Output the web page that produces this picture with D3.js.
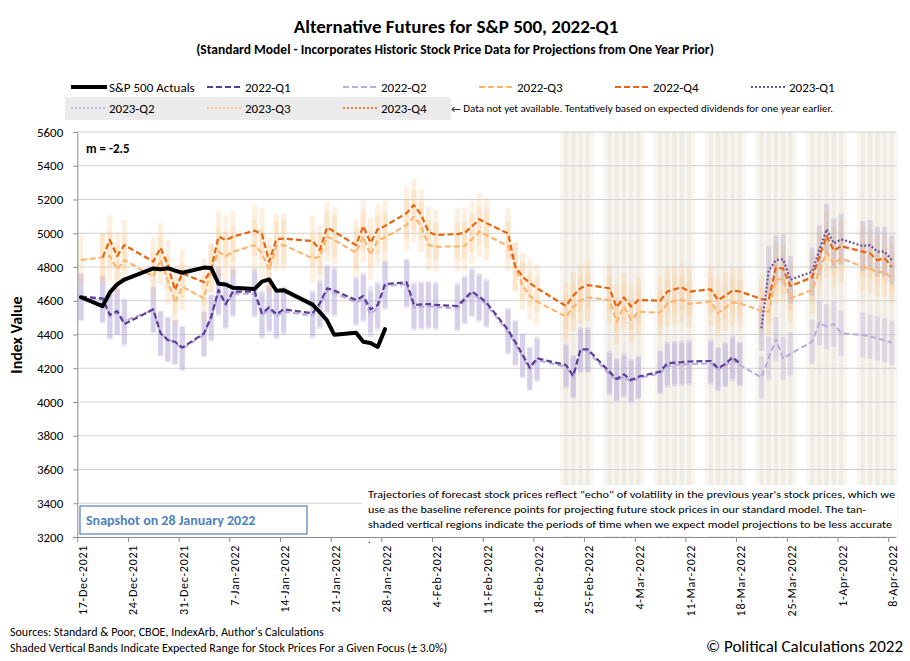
<!DOCTYPE html>
<html lang="en">
<head>
<meta charset="UTF-8">
<title>Alternative Futures for S&amp;P 500, 2022-Q1</title>
<script src="https://cdn.jsdelivr.net/npm/d3@7"></script>
<style>
    body { margin: 0; background: #fff; }
    svg { font-family: Carlito, Calibri, Lato, "Open Sans", sans-serif; }
</style>
</head>
<body>
<svg id="chart" width="910" height="661"></svg>
<script>
// trading days shown on the chart
var tradingDates = [
    "2021-12-17", "2021-12-20", "2021-12-21", "2021-12-22", "2021-12-23", "2021-12-27", "2021-12-28", "2021-12-29", "2021-12-30", "2021-12-31",
    "2022-01-03", "2022-01-04", "2022-01-05", "2022-01-06", "2022-01-07", "2022-01-10", "2022-01-11", "2022-01-12", "2022-01-13", "2022-01-14",
    "2022-01-18", "2022-01-19", "2022-01-20", "2022-01-21", "2022-01-24", "2022-01-25", "2022-01-26", "2022-01-27", "2022-01-28", "2022-01-31",
    "2022-02-01", "2022-02-02", "2022-02-03", "2022-02-04", "2022-02-07", "2022-02-08", "2022-02-09", "2022-02-10", "2022-02-11", "2022-02-14",
    "2022-02-15", "2022-02-16", "2022-02-17", "2022-02-18", "2022-02-22", "2022-02-23", "2022-02-24", "2022-02-25", "2022-02-28", "2022-03-01",
    "2022-03-02", "2022-03-03", "2022-03-04", "2022-03-07", "2022-03-08", "2022-03-09", "2022-03-10", "2022-03-11", "2022-03-14", "2022-03-15",
    "2022-03-16", "2022-03-17", "2022-03-18", "2022-03-21", "2022-03-22", "2022-03-23", "2022-03-24", "2022-03-25", "2022-03-28", "2022-03-29",
    "2022-03-30", "2022-03-31", "2022-04-01", "2022-04-04", "2022-04-05", "2022-04-06", "2022-04-07", "2022-04-08"
];

// S&P 500 closes, from 17-Dec-2021
var actuals = [4620.64, 4568.02, 4649.23, 4696.56, 4725.79, 4791.19, 4786.35, 4793.06, 4778.73, 4766.18,
    4796.56, 4793.54, 4700.58, 4696.05, 4677.03, 4670.29, 4713.07, 4726.35, 4659.03, 4662.85,
    4577.11, 4532.76, 4482.73, 4397.94, 4410.13, 4356.45, 4349.93, 4326.51, 4431.85];

// 2022-Q1 focus, from 17-Dec-2021 to 18-Mar-2022
var q1_2022 = [4624, 4614, 4516, 4539, 4462, 4549, 4407, 4367, 4357, 4322,
    4407, 4505, 4664, 4581, 4654, 4654, 4526, 4561, 4520, 4549,
    4526, 4585, 4674, 4660, 4604, 4628, 4549, 4575, 4699, 4709,
    4575, 4578, 4580, 4575, 4569, 4610, 4655, 4625, 4590, 4427,
    4355, 4280, 4203, 4259, 4219, 4154, 4312, 4312, 4180, 4136,
    4164, 4130, 4150, 4180, 4229, 4233, 4236, 4240, 4243, 4200,
    4225, 4265, 4229];

// 2022-Q2 focus, from 17-Dec-2021
var q2_2022 = [4620, 4605, 4505, 4530, 4480, 4545, 4405, 4372, 4352, 4315,
    4400, 4495, 4650, 4570, 4642, 4640, 4512, 4548, 4508, 4535,
    4512, 4570, 4660, 4645, 4590, 4612, 4520, 4560, 4688, 4698,
    4560, 4565, 4568, 4562, 4555, 4598, 4642, 4612, 4578, 4415,
    4345, 4270, 4192, 4248, 4208, 4145, 4300, 4300, 4165, 4126,
    4150, 4120, 4140, 4170, 4213, 4220, 4222, 4225, 4229, 4190,
    4215, 4249, 4219, 4146, 4260, 4372, 4259, 4285, 4357, 4470,
    4446, 4462, 4407, 4397, 4388, 4378, 4365, 4351];

// 2022-Q3 focus, from 17-Dec-2021
var q3_2022 = [4841, 4857, 4865, 4786, 4841, 4743, 4841, 4720, 4589, 4683,
    4614, 4794, 4891, 4865, 4890, 4930, 4880, 4782, 4924, 4930,
    4852, 4860, 4980, 4960, 4885, 4980, 4871, 4960, 4975, 5049,
    5098, 5040, 4930, 4920, 4922, 4924, 4965, 5010, 4990, 4924,
    4800, 4690, 4630, 4595, 4505, 4560, 4604, 4620, 4604, 4476,
    4565, 4486, 4535, 4529, 4585, 4600, 4608, 4581, 4595, 4526,
    4560, 4589, 4585, 4540, 4535, 4723, 4730, 4614, 4664, 4780,
    4885, 4818, 4851, 4802, 4790, 4767, 4772, 4733];

// 2022-Q4 focus, from 20-Dec-2021
var q4_2022 = [4857, 4960, 4865, 4930, 4832, 4914, 4812, 4664, 4763,
    4710, 4790, 4980, 4960, 4980, 5015, 4995, 4832, 4964, 4968,
    4954, 4901, 5035, 5009, 4930, 5043, 4944, 5023, 5043, 5120,
    5167, 5110, 5009, 4990, 4995, 5003, 5040, 5083, 5060, 4999,
    4802, 4743, 4705, 4674, 4569, 4630, 4674, 4693, 4674, 4561,
    4620, 4565, 4604, 4600, 4654, 4668, 4680, 4654, 4668, 4604,
    4630, 4660, 4655, 4610, 4604, 4798, 4790, 4687, 4739, 4860,
    4984, 4897, 4924, 4891, 4880, 4841, 4851, 4802];

// 2023-Q1 focus, from 21-Mar-2022
var q1_2023 = [4437, 4780, 4841, 4846, 4725, 4772, 4900, 5023, 4940, 4964, 4924, 4930, 4891, 4891, 4841];

// not yet available
var q2_2023 = [];
var q3_2023 = [];
var q4_2023 = [];

var bandPct = 0.03;
var tanStart = "2022-02-22";

var yTicks = [3200, 3400, 3600, 3800, 4000, 4200, 4400, 4600, 4800, 5000, 5200, 5400, 5600];
var xTicks = ["2021-12-17", "2021-12-24", "2021-12-31", "2022-01-07", "2022-01-14", "2022-01-21", "2022-01-28",
    "2022-02-04", "2022-02-11", "2022-02-18", "2022-02-25", "2022-03-04", "2022-03-11", "2022-03-18",
    "2022-03-25", "2022-04-01", "2022-04-08"];

var legendRow1 = ["S&P 500 Actuals", "2022-Q1", "2022-Q2", "2022-Q3", "2022-Q4", "2023-Q1"];
var legendRow2 = ["2023-Q2", "2023-Q3", "2023-Q4"];

var parseDate = d3.timeParse("%Y-%m-%d");
var fmtTick = d3.timeFormat("%-d-%b-%Y");

function buildSeries(startDate, values) {
    var start = tradingDates.indexOf(startDate);
    return values.map(function (v, i) {
        return {date: parseDate(tradingDates[start + i]), value: v};
    });
}

var styles = {
    "S&P 500 Actuals": {color: "#000000", dash: null, width: 4},
    "2022-Q1": {color: "#5b3d99", dash: "6,3", width: 2.2, band: "#b9acdb", bandOp: 0.34},
    "2022-Q2": {color: "#b9addb", dash: "6,3", width: 2, band: "#b9acdb", bandOp: 0.34},
    "2022-Q3": {color: "#ffb166", dash: "6,3", width: 2, band: "#fbc48c", bandOp: 0.26},
    "2022-Q4": {color: "#e8650f", dash: "6,3", width: 2.2, band: "#fbc48c", bandOp: 0.26},
    "2023-Q1": {color: "#6a51a6", dash: "2,2", width: 2.2, band: "#b0a6c8", bandOp: 0.36},
    "2023-Q2": {color: "#c4badf", dash: "2,2", width: 2},
    "2023-Q3": {color: "#ffc48c", dash: "2,2", width: 2},
    "2023-Q4": {color: "#ef7f2a", dash: "2,2", width: 2}
};

var series = [
    {name: "2022-Q2", data: buildSeries("2021-12-17", q2_2022)},
    {name: "2022-Q1", data: buildSeries("2021-12-17", q1_2022)},
    {name: "2022-Q3", data: buildSeries("2021-12-17", q3_2022)},
    {name: "2022-Q4", data: buildSeries("2021-12-20", q4_2022)},
    {name: "2023-Q1", data: buildSeries("2022-03-21", q1_2023)},
    {name: "2023-Q2", data: buildSeries("2022-03-21", q2_2023)},
    {name: "2023-Q3", data: buildSeries("2022-03-21", q3_2023)},
    {name: "2023-Q4", data: buildSeries("2022-03-21", q4_2023)},
    {name: "S&P 500 Actuals", data: buildSeries("2021-12-17", actuals)}
];

var svg = d3.select("#chart");
svg.append("rect").attr("width", 910).attr("height", 661).attr("fill", "#fff");

var plotLeft = 77.3, plotRight = 895.4, plotTop = 132, plotBottom = 537;
var x = d3.scaleTime()
    .domain([parseDate("2021-12-17"), parseDate("2022-04-09")])
    .range([plotLeft, plotRight]);
var y = d3.scaleLinear().domain([3200, 5600]).range([plotBottom, plotTop]);
var dayW = x(parseDate("2021-12-18")) - x(parseDate("2021-12-17"));

// points sit in the middle of their day
function px(d) {
    return x(d3.timeHour.offset(d, 12));
}

// tan shaded periods of lower accuracy
var tanDates = tradingDates.filter(function (d) { return d >= tanStart; }).map(parseDate);
var tanG = svg.append("g");
tanG.selectAll("rect.base").data(tanDates).enter().append("rect")
    .attr("class", "base")
    .attr("x", function (d) { return px(d) - dayW * 0.85; })
    .attr("width", dayW * 1.7)
    .attr("y", plotTop)
    .attr("height", plotBottom - plotTop)
    .attr("fill", "#f8f6f1");
tanG.selectAll("rect.core").data(tanDates).enter().append("rect")
    .attr("class", "core")
    .attr("x", function (d) { return px(d) - dayW * 0.3; })
    .attr("width", dayW * 0.6)
    .attr("y", plotTop)
    .attr("height", plotBottom - plotTop)
    .attr("fill", "#f1ece3");

// gridlines
svg.append("g").selectAll("line").data(yTicks.slice(1)).enter().append("line")
    .attr("x1", plotLeft).attr("x2", plotRight + 1)
    .attr("y1", function (d) { return y(d); })
    .attr("y2", function (d) { return y(d); })
    .attr("stroke", "#d0d0d0")
    .attr("stroke-width", 1);

// expected range bands
var bandG = svg.append("g");
series.forEach(function (s) {
    var st = styles[s.name];
    if (!st.band) return;
    bandG.append("g").selectAll("rect")
        .data(s.data.filter(function (d) { return d.value != null; }))
        .enter().append("rect")
        .attr("x", function (d) { return px(d.date) - 2.6; })
        .attr("width", 5.2)
        .attr("y", function (d) { return y(d.value * (1 + bandPct)); })
        .attr("height", function (d) { return y(d.value * (1 - bandPct)) - y(d.value * (1 + bandPct)); })
        .attr("fill", st.band)
        .attr("fill-opacity", st.bandOp);
});

// text box in the lower right of the plot
svg.append("rect").attr("x", 362).attr("y", 485).attr("width", 535).attr("height", 51).attr("fill", "#fff");

// lines
var line = d3.line()
    .defined(function (d) { return d.value != null; })
    .x(function (d) { return px(d.date); })
    .y(function (d) { return y(d.value); });

series.forEach(function (s) {
    var st = styles[s.name];
    if (!s.data.length) return;
    svg.append("path")
        .datum(s.data)
        .attr("d", line)
        .attr("fill", "none")
        .attr("stroke", st.color)
        .attr("stroke-width", st.width)
        .attr("stroke-dasharray", st.dash)
        .attr("stroke-linejoin", "round")
        .attr("stroke-linecap", s.name == "S&P 500 Actuals" ? "round" : "butt");
});

// axes
var yAxis = svg.append("g")
    .attr("transform", "translate(" + plotLeft + ",0)")
    .call(d3.axisLeft(y).tickValues(yTicks).tickSize(4).tickPadding(10).tickFormat(d3.format("d")));
yAxis.select(".domain").attr("stroke", "#8c8c8c");
yAxis.selectAll(".tick line").attr("stroke", "#8c8c8c");
yAxis.selectAll("text").attr("font-size", 13).attr("fill", "#000")
    .attr("font-family", "Carlito, Calibri, Lato, sans-serif");

var tickDates = xTicks.map(parseDate);
var xAxis = svg.append("g")
    .attr("transform", "translate(0," + plotBottom + ")")
    .call(d3.axisBottom(x).tickValues(tickDates).tickSize(5).tickSizeOuter(0).tickFormat(""));
xAxis.select(".domain").attr("stroke", "#8c8c8c").attr("d", "M" + (plotLeft - 4) + ",0.5H" + (plotRight + 1));
xAxis.selectAll(".tick line").attr("stroke", "#8c8c8c");

svg.append("g").selectAll("text").data(tickDates).enter().append("text")
    .attr("transform", function (d) { return "translate(" + (x(d) + 5) + ",545) rotate(-90)"; })
    .attr("text-anchor", "end")
    .attr("dy", "0.35em")
    .attr("font-size", 12)
    .attr("letter-spacing", 0.7)
    .attr("fill", "#000")
    .text(function (d) { return fmtTick(d); });

svg.append("text")
    .attr("transform", "translate(22,335) rotate(-90)")
    .attr("text-anchor", "middle")
    .attr("font-size", 16)
    .attr("font-weight", "bold")
    .text("Index Value");

// titles
svg.append("text").attr("x", 456).attr("y", 33).attr("text-anchor", "middle")
    .attr("font-size", 19).attr("font-weight", "bold")
    .text("Alternative Futures for S&P 500, 2022-Q1");
svg.append("text").attr("x", 455).attr("y", 54).attr("text-anchor", "middle")
    .attr("font-size", 13.5).attr("font-weight", "bold")
    .text("(Standard Model - Incorporates Historic Stock Price Data for Projections from One Year Prior)");

// legend
svg.append("rect").attr("x", 65).attr("y", 97).attr("width", 386).attr("height", 23).attr("fill", "#ebebeb");

function drawLegendRow(names, yPos) {
    names.forEach(function (name, i) {
        var st = styles[name];
        var x0 = 71 + i * 136;
        svg.append("line")
            .attr("x1", x0).attr("x2", x0 + 36)
            .attr("y1", yPos).attr("y2", yPos)
            .attr("stroke", st.color)
            .attr("stroke-width", name == "S&P 500 Actuals" ? 4 : 2.2)
            .attr("stroke-dasharray", st.dash);
        svg.append("text").attr("x", x0 + 38).attr("y", yPos + 4.5)
            .attr("font-size", 13).text(name);
    });
}
drawLegendRow(legendRow1, 87);
drawLegendRow(legendRow2, 108);

svg.append("text").attr("x", 451).attr("y", 111.5).attr("font-size", 9.5)
    .attr("textLength", 382).attr("lengthAdjust", "spacingAndGlyphs")
    .text("\u2190 Data not yet available.  Tentatively based on expected dividends for one year earlier.");

// annotations
svg.append("text").attr("x", 86).attr("y", 153).attr("font-size", 13).attr("font-weight", "bold")
    .text("m = -2.5");

svg.append("rect").attr("x", 80).attr("y", 506).attr("width", 227).attr("height", 28)
    .attr("fill", "#fff").attr("stroke", "#4f81bd").attr("stroke-width", 1.2);
svg.append("text").attr("x", 86).attr("y", 525).attr("font-size", 14).attr("font-weight", "bold")
    .attr("fill", "#4f81bd").text("Snapshot on 28 January 2022");

var noteLines = [
    {t: "Trajectories of forecast stock prices reflect \"echo\" of volatility in  the previous year's stock prices, which we", w: 527, y: 498},
    {t: "use as the baseline reference points for projecting future stock prices in our standard model.   The tan-", w: 498, y: 513},
    {t: "shaded vertical regions indicate the periods of time when we expect model projections to be less accurate", w: 524, y: 528}
];
svg.append("g").selectAll("text").data(noteLines).enter().append("text")
    .attr("x", 368)
    .attr("y", function (d) { return d.y; })
    .attr("font-size", 11)
    .attr("textLength", function (d) { return d.w; })
    .attr("lengthAdjust", "spacingAndGlyphs")
    .text(function (d) { return d.t; });
svg.append("text").attr("x", 368).attr("y", 543).attr("font-size", 11).text(".");

// footer
svg.append("text").attr("x", 10).attr("y", 636).attr("font-size", 12)
    .text("Sources: Standard & Poor, CBOE, IndexArb, Author's Calculations");
svg.append("text").attr("x", 10).attr("y", 652).attr("font-size", 12)
    .text("Shaded Vertical Bands Indicate Expected Range for Stock Prices For a Given Focus (\u00b1 3.0%)");
svg.append("text").attr("x", 903).attr("y", 652).attr("text-anchor", "end").attr("font-size", 17)
    .text("\u00a9 Political Calculations 2022");
</script>
</body>
</html>
